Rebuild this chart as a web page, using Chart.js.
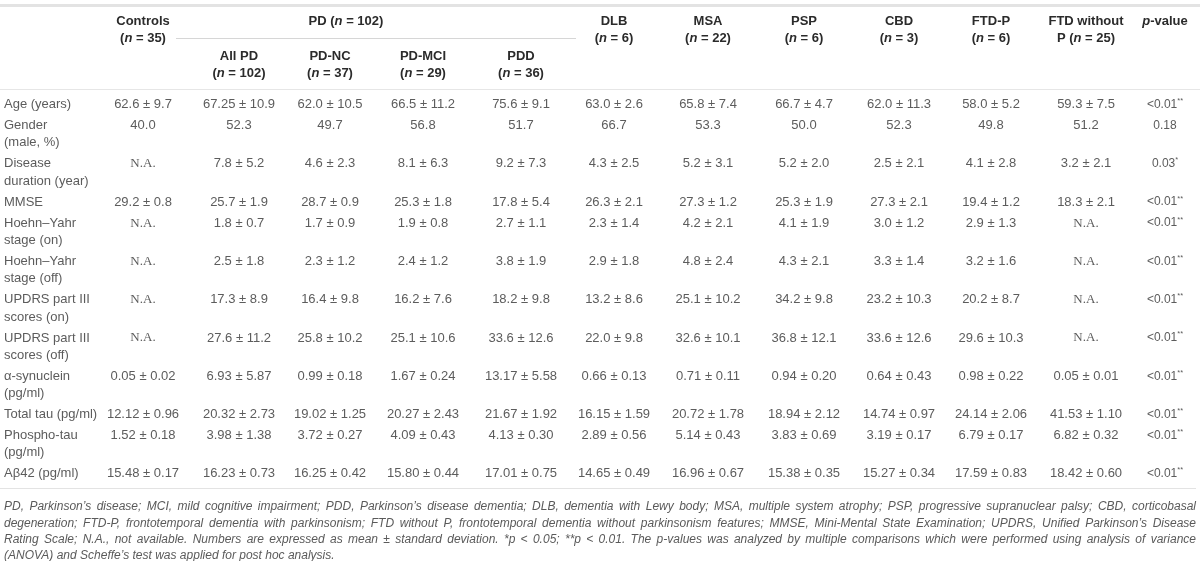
<!DOCTYPE html>
<html>
<head>
<meta charset="utf-8">
<script src="https://cdn.jsdelivr.net/npm/chart.js@4.4.1/dist/chart.umd.min.js"></script>
<style>
  html, body { margin: 0; padding: 0; background: #fff; }
  #wrap { width: 1200px; height: 561px; position: relative; }
</style>
</head>
<body>
<div id="wrap"><canvas id="tableChart"></canvas></div>
<script>
// column headers (_x_ = italic, ^x^ = superscript)
const colHeaders = [
  'Controls\n(_n_ = 35)', 'All PD\n(_n_ = 102)', 'PD-NC\n(_n_ = 37)', 'PD-MCI\n(_n_ = 29)', 'PDD\n(_n_ = 36)',
  'DLB\n(_n_ = 6)', 'MSA\n(_n_ = 22)', 'PSP\n(_n_ = 6)', 'CBD\n(_n_ = 3)', 'FTD-P\n(_n_ = 6)',
  'FTD without\nP (_n_ = 25)', '_p_-value'
];
const pdGroupHeader = 'PD (_n_ = 102)';
const pdSubColumns = [1, 2, 3, 4]; // All PD .. PDD sit under the PD group

const rowLabels = [
  'Age (years)', 'Gender\n(male, %)', 'Disease\nduration (year)', 'MMSE',
  'Hoehn–Yahr\nstage (on)', 'Hoehn–Yahr\nstage (off)', 'UPDRS part III\nscores (on)', 'UPDRS part III\nscores (off)',
  'α-synuclein\n(pg/ml)', 'Total tau (pg/ml)', 'Phospho-tau\n(pg/ml)', 'Aβ42 (pg/ml)'
];

// values, mean ± SD as printed
const controls = ['62.6 ± 9.7', '40.0', 'N.A.', '29.2 ± 0.8', 'N.A.', 'N.A.', 'N.A.', 'N.A.', '0.05 ± 0.02', '12.12 ± 0.96', '1.52 ± 0.18', '15.48 ± 0.17'];
const allPD = ['67.25 ± 10.9', '52.3', '7.8 ± 5.2', '25.7 ± 1.9', '1.8 ± 0.7', '2.5 ± 1.8', '17.3 ± 8.9', '27.6 ± 11.2', '6.93 ± 5.87', '20.32 ± 2.73', '3.98 ± 1.38', '16.23 ± 0.73'];
const pdNC = ['62.0 ± 10.5', '49.7', '4.6 ± 2.3', '28.7 ± 0.9', '1.7 ± 0.9', '2.3 ± 1.2', '16.4 ± 9.8', '25.8 ± 10.2', '0.99 ± 0.18', '19.02 ± 1.25', '3.72 ± 0.27', '16.25 ± 0.42'];
const pdMCI = ['66.5 ± 11.2', '56.8', '8.1 ± 6.3', '25.3 ± 1.8', '1.9 ± 0.8', '2.4 ± 1.2', '16.2 ± 7.6', '25.1 ± 10.6', '1.67 ± 0.24', '20.27 ± 2.43', '4.09 ± 0.43', '15.80 ± 0.44'];
const pdd = ['75.6 ± 9.1', '51.7', '9.2 ± 7.3', '17.8 ± 5.4', '2.7 ± 1.1', '3.8 ± 1.9', '18.2 ± 9.8', '33.6 ± 12.6', '13.17 ± 5.58', '21.67 ± 1.92', '4.13 ± 0.30', '17.01 ± 0.75'];
const dlb = ['63.0 ± 2.6', '66.7', '4.3 ± 2.5', '26.3 ± 2.1', '2.3 ± 1.4', '2.9 ± 1.8', '13.2 ± 8.6', '22.0 ± 9.8', '0.66 ± 0.13', '16.15 ± 1.59', '2.89 ± 0.56', '14.65 ± 0.49'];
const msa = ['65.8 ± 7.4', '53.3', '5.2 ± 3.1', '27.3 ± 1.2', '4.2 ± 2.1', '4.8 ± 2.4', '25.1 ± 10.2', '32.6 ± 10.1', '0.71 ± 0.11', '20.72 ± 1.78', '5.14 ± 0.43', '16.96 ± 0.67'];
const psp = ['66.7 ± 4.7', '50.0', '5.2 ± 2.0', '25.3 ± 1.9', '4.1 ± 1.9', '4.3 ± 2.1', '34.2 ± 9.8', '36.8 ± 12.1', '0.94 ± 0.20', '18.94 ± 2.12', '3.83 ± 0.69', '15.38 ± 0.35'];
const cbd = ['62.0 ± 11.3', '52.3', '2.5 ± 2.1', '27.3 ± 2.1', '3.0 ± 1.2', '3.3 ± 1.4', '23.2 ± 10.3', '33.6 ± 12.6', '0.64 ± 0.43', '14.74 ± 0.97', '3.19 ± 0.17', '15.27 ± 0.34'];
const ftdP = ['58.0 ± 5.2', '49.8', '4.1 ± 2.8', '19.4 ± 1.2', '2.9 ± 1.3', '3.2 ± 1.6', '20.2 ± 8.7', '29.6 ± 10.3', '0.98 ± 0.22', '24.14 ± 2.06', '6.79 ± 0.17', '17.59 ± 0.83'];
const ftdNoP = ['59.3 ± 7.5', '51.2', '3.2 ± 2.1', '18.3 ± 2.1', 'N.A.', 'N.A.', 'N.A.', 'N.A.', '0.05 ± 0.01', '41.53 ± 1.10', '6.82 ± 0.32', '18.42 ± 0.60'];
const pValues = ['<0.01^**^', '0.18', '0.03^*^', '<0.01^**^', '<0.01^**^', '<0.01^**^', '<0.01^**^', '<0.01^**^', '<0.01^**^', '<0.01^**^', '<0.01^**^', '<0.01^**^'];

const columns = [controls, allPD, pdNC, pdMCI, pdd, dlb, msa, psp, cbd, ftdP, ftdNoP, pValues];

const footnoteLines = [
  'PD, Parkinson\u2019s disease; MCI, mild cognitive impairment; PDD, Parkinson\u2019s disease dementia; DLB, dementia with Lewy body; MSA, multiple system atrophy; PSP, progressive supranuclear palsy; CBD, corticobasal',
  'degeneration; FTD-P, frontotemporal dementia with parkinsonism; FTD without P, frontotemporal dementia without parkinsonism features; MMSE, Mini-Mental State Examination; UPDRS, Unified Parkinson\u2019s Disease',
  'Rating Scale; N.A., not available. Numbers are expressed as mean \u00b1 standard deviation. *p < 0.05; **p < 0.01. The p-values was analyzed by multiple comparisons which were performed using analysis of variance',
  '(ANOVA) and Scheffe\u2019s test was applied for post hoc analysis.'
];

// layout (positions in scale units, the scales span the canvas)
const layout = {
  labelX: 4,
  colX: [143, 239, 330, 423, 521, 614, 708, 804, 899, 991, 1086, 1165],
  headY: 21, subHeadY: 56, headLine: 17,
  pdHeadX: 346,
  pdLine: { y: 37.5, x0: 176, x1: 576 },
  topRule: 5, headRule: 88.5,
  bodyTop: 104.5, line: 17.3, rowPad: 3.7,
  footLine: 16.4, right: 1196
};

const SANS = "'Liberation Sans', Arial, Helvetica, sans-serif";
const SERIF = "'Liberation Serif', 'Times New Roman', serif";

// y of the first line of each body row
const rowY = [];
let yy = layout.bodyTop;
rowLabels.forEach(l => {
  rowY.push(yy);
  yy += l.split('\n').length * layout.line + layout.rowPad;
});
const bottomRule = rowY[rowY.length - 1] + 14;
const footTop = bottomRule + 19;

function parseRich(s) {
  const segs = [];
  let it = false, sup = false, buf = '';
  for (const ch of s) {
    if (ch === '_' || ch === '^') {
      if (buf) segs.push({ t: buf, it, sup });
      buf = '';
      if (ch === '_') it = !it; else sup = !sup;
    } else buf += ch;
  }
  if (buf) segs.push({ t: buf, it, sup });
  return segs;
}

function fontOf(st, seg) {
  const size = seg.sup ? st.size * 0.62 : st.size;
  const style = (st.italic || seg.it) ? 'italic ' : '';
  return style + (st.weight || 'normal') + ' ' + size + 'px ' + (st.family || SANS);
}

function drawRich(ctx, s, x, y, align, st) {
  const segs = parseRich(s);
  let total = 0;
  segs.forEach(seg => { ctx.font = fontOf(st, seg); seg.w = ctx.measureText(seg.t).width; total += seg.w; });
  let cx = align === 'center' ? x - total / 2 : (align === 'right' ? x - total : x);
  ctx.fillStyle = st.color;
  ctx.textAlign = 'left';
  ctx.textBaseline = 'middle';
  segs.forEach(seg => {
    ctx.font = fontOf(st, seg);
    ctx.fillText(seg.t, cx, seg.sup ? y - st.size * 0.3 : y);
    cx += seg.w;
  });
}

const styles = {
  head: { size: 13, weight: 'bold', color: '#2b2b2b' },
  label: { size: 13, color: '#5c5c5c' },
  value: { size: 13, color: '#5c5c5c' },
  na: { size: 13, color: '#5c5c5c', family: SERIF },
  pval: { size: 12, color: '#5c5c5c' },
  foot: { size: 12, color: '#5a5a5a', italic: true }
};

// datasets: one point per cell, the text is drawn at the point's pixel position
const datasets = [];
datasets.push({
  label: 'row labels', kind: 'label', align: 'left', texts: rowLabels,
  data: rowLabels.map((t, r) => ({ x: layout.labelX, y: rowY[r] }))
});
columns.forEach((col, c) => {
  datasets.push({
    label: colHeaders[c], kind: c === columns.length - 1 ? 'pval' : 'value', align: 'center', texts: col,
    data: col.map((t, r) => ({ x: layout.colX[c], y: rowY[r] }))
  });
});
datasets.push({
  label: 'headers', kind: 'head', align: 'center',
  texts: colHeaders.concat([pdGroupHeader]),
  data: colHeaders.map((t, c) => ({
    x: layout.colX[c],
    y: pdSubColumns.includes(c) ? layout.subHeadY : layout.headY
  })).concat([{ x: layout.pdHeadX, y: layout.headY }])
});
datasets.push({
  label: 'footnote', kind: 'foot', align: 'justify', texts: footnoteLines,
  data: footnoteLines.map((t, i) => ({ x: layout.labelX, y: footTop + i * layout.footLine }))
});

const tableText = {
  id: 'tableText',
  afterDatasetsDraw(chart) {
    const ctx = chart.ctx;
    const xs = chart.scales.x, ys = chart.scales.y;
    const lineStep = ys.getPixelForValue(layout.line) - ys.getPixelForValue(0);
    const headStep = ys.getPixelForValue(layout.headLine) - ys.getPixelForValue(0);

    ctx.save();
    // rules
    function hRule(y, x0, x1, color, w) {
      ctx.beginPath();
      ctx.strokeStyle = color;
      ctx.lineWidth = w;
      const py = Math.round(ys.getPixelForValue(y)) + (w % 2 ? 0.5 : 0);
      ctx.moveTo(xs.getPixelForValue(x0), py);
      ctx.lineTo(xs.getPixelForValue(x1), py);
      ctx.stroke();
    }
    hRule(layout.topRule, 0, 1200, '#e3e3e3', 3);
    hRule(layout.pdLine.y, layout.pdLine.x0, layout.pdLine.x1, '#d6d6d6', 1);
    hRule(layout.headRule, 0, 1200, '#e6e6e6', 1);
    hRule(bottomRule, 0, layout.right, '#e3e3e3', 1);

    chart.data.datasets.forEach((ds, i) => {
      const meta = chart.getDatasetMeta(i);
      meta.data.forEach((pt, j) => {
        const text = ds.texts[j];
        if (ds.kind === 'foot') {
          const st = styles.foot;
          ctx.font = fontOf(st, {});
          ctx.fillStyle = st.color;
          ctx.textAlign = 'left';
          ctx.textBaseline = 'middle';
          const last = j === ds.texts.length - 1;
          const words = text.split(' ');
          const widths = words.map(w => ctx.measureText(w).width);
          const sum = widths.reduce((a, b) => a + b, 0);
          const avail = xs.getPixelForValue(layout.right) - pt.x;
          const gap = last ? ctx.measureText(' ').width : (avail - sum) / (words.length - 1);
          let cx = pt.x;
          words.forEach((w, k) => { ctx.fillText(w, cx, pt.y); cx += widths[k] + gap; });
          return;
        }
        const lines = text.split('\n');
        lines.forEach((ln, k) => {
          let st = styles[ds.kind];
          if (ln === 'N.A.') st = styles.na;
          const step = ds.kind === 'head' ? headStep : lineStep;
          drawRich(ctx, ln, pt.x, pt.y + k * step, ds.align, st);
        });
      });
    });
    ctx.restore();
  }
};

const chart = new Chart(document.getElementById('tableChart'), {
  type: 'scatter',
  data: { datasets },
  options: {
    responsive: true,
    maintainAspectRatio: false,
    animation: false,
    events: [],
    layout: { padding: 0 },
    elements: { point: { radius: 0, hoverRadius: 0 } },
    plugins: { legend: { display: false }, tooltip: { enabled: false } },
    scales: {
      x: { type: 'linear', min: 0, max: 1200, display: false },
      y: { type: 'linear', min: 0, max: 561, reverse: true, display: false }
    }
  },
  plugins: [tableText]
});
</script>
</body>
</html>
